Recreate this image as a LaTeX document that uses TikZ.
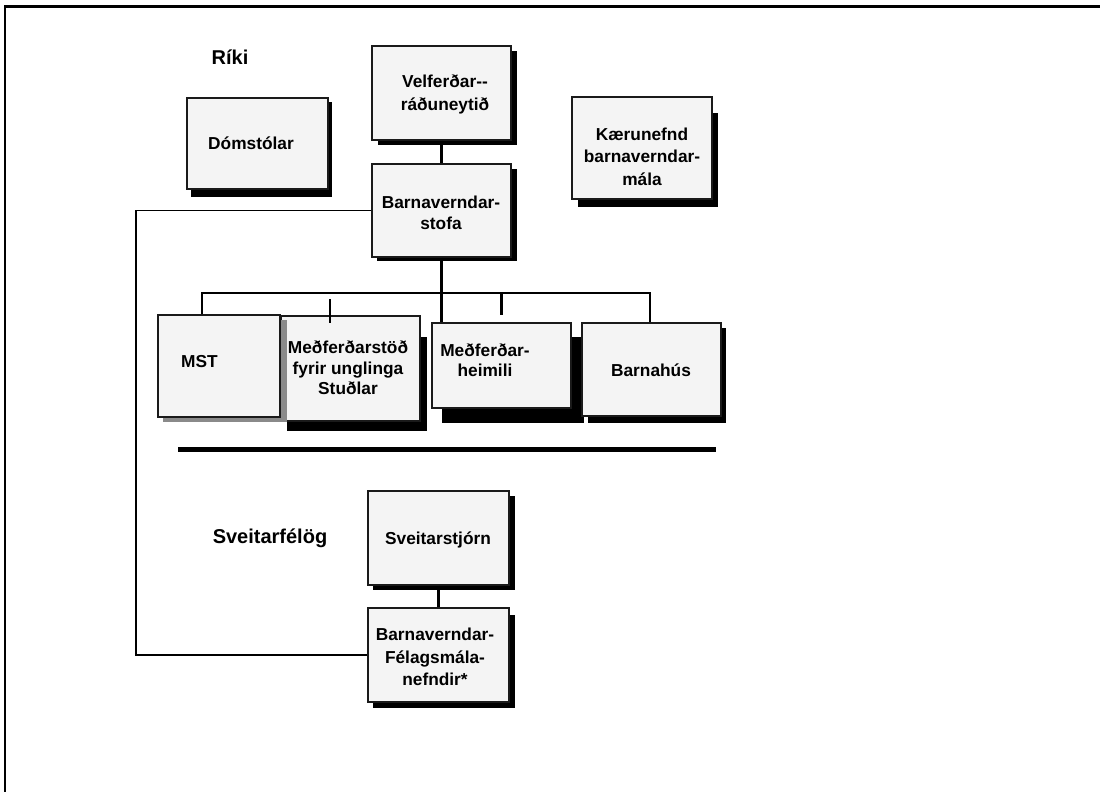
\documentclass[tikz,border=0pt]{standalone}
\usepackage{fontspec}
\setmainfont{Liberation Sans}
\definecolor{boxfill}{HTML}{F4F4F4}
\definecolor{boxline}{HTML}{1A1A1A}
\definecolor{shadowgray}{HTML}{8A8A8A}
\tikzset{
  orgbox/.style={draw=boxline, line width=1.4pt, fill=boxfill, inner sep=0pt},
  boxtext/.style={align=center, inner sep=0pt, font=\bfseries\fontsize{17.3}{22.5}\selectfont},
  tighttext/.style={boxtext, font=\bfseries\fontsize{17.3}{20.5}\selectfont},
  headtext/.style={inner sep=0pt, font=\bfseries\fontsize{20}{22}\selectfont},
  conn/.style={draw=black, line width=2.2pt},
  thinconn/.style={draw=black, line width=1.5pt},
  shadowfill/.style={fill=black, draw=none},
}
\begin{document}
\begin{tikzpicture}[x=1pt, y=-1pt]
\useasboundingbox (0,0) rectangle (1100,792);
% frame
\draw[line width=2.6pt] (5,792) -- (5,6.5) -- (1100,6.5);

% ---------- shadows (drawn first) ----------
\fill[shadowfill] (378,51) rectangle (517,145);   % vel
\fill[shadowfill] (191,102) rectangle (332,197);  % dom
\fill[shadowfill] (578,113) rectangle (718,207);  % kae
\fill[shadowfill] (377,169) rectangle (517,261);  % bvs
\fill[shadowfill] (287,337) rectangle (427,431);  % stu
\fill[shadowfill] (442,337) rectangle (584,423);  % mh
\fill[shadowfill] (588,328) rectangle (726,423);  % bh
\fill[shadowfill] (373,496) rectangle (515,590);  % sv
\fill[shadowfill] (373,615) rectangle (515,708);  % bfn

% ---------- boxes ----------
\node[orgbox, minimum width=139pt, minimum height=94pt] (vel) at (441.5,93) {};
\node[orgbox, minimum width=141pt, minimum height=91pt] (dom) at (257.5,143.5) {};
\node[orgbox, minimum width=140pt, minimum height=102pt] (kae) at (642,148) {};
\node[orgbox, minimum width=139pt, minimum height=93pt] (bvs) at (441.5,210.5) {};
\node[orgbox, minimum width=139pt, minimum height=105pt] (stu) at (350.5,368.5) {};
\fill[shadowgray] (163,320) rectangle (287,422); % mst shadow
\node[orgbox, minimum width=122pt, minimum height=102pt] (mst) at (219,366) {};
\node[orgbox, minimum width=139pt, minimum height=85pt] (mh) at (501.5,365.5) {};
\node[orgbox, minimum width=139pt, minimum height=93pt] (bh) at (651.5,369.5) {};
\node[orgbox, minimum width=141pt, minimum height=94pt] (sv) at (438.5,538) {};
\node[orgbox, minimum width=141pt, minimum height=94pt] (bfn) at (438.5,655) {};

% ---------- texts ----------
\node[boxtext] (vel-t) at (445,94.5) {Velferðar-{}-\\ráðuneytið};
\node[boxtext] (dom-t) at (251,143) {Dómstólar};
\node[boxtext] (kae-t) at (642,156.5) {Kærunefnd\\barnaverndar-\\mála};
\node[tighttext] (bvs-t) at (441,213) {Barnaverndar-\\stofa};
\node[boxtext] (mst-t) at (199.5,362) {MST};
\node[tighttext] (stu-t) at (348,368) {Meðferðarstöð\\fyrir unglinga\\Stuðlar};
\node[tighttext] (mh-t) at (485,360) {Meðferðar-\\heimili};
\node[boxtext] (bh-t) at (651,370) {Barnahús};
\node[boxtext] (sv-t) at (438,540) {Sveitarstjórn};
\node[boxtext] (bfn-t) at (435,657) {Barnaverndar-\\Félagsmála-\\nefndir*};

\node[headtext] (riki) at (230,57) {Ríki};
\node[headtext] (sveit) at (270,538) {Sveitarfélög};

% ---------- connectors ----------
\draw[conn] (vel.south) -- (bvs.north);
\draw[conn] (sv.south) -- (bfn.north);
\draw[thinconn] (bvs.west) -- (136,210.5) coordinate (cl1) -- (cl1 |- bfn.west) -- (bfn.west);

\coordinate (busL) at (202,293);
\coordinate (busR) at (650,293);
\draw[conn] (mst.north -| busL) -- (busL) -- (busR) -- (busR |- bh.north);
\draw[conn] (bvs.south) -- (bvs.south |- mh.north);
\coordinate (tickA) at (330,299);
\coordinate (tickAend) at (330,323);
\draw[conn] (tickA) -- (tickAend);
\coordinate (tickB) at (501.5,293);
\coordinate (tickBend) at (501.5,315);
\draw[conn] (tickB) -- (tickBend);

% separator rule
\coordinate (ruleL) at (178,449.5);
\coordinate (ruleR) at (716,449.5);
\draw[line width=5pt] (ruleL) -- (ruleR);
\end{tikzpicture}
\end{document}
